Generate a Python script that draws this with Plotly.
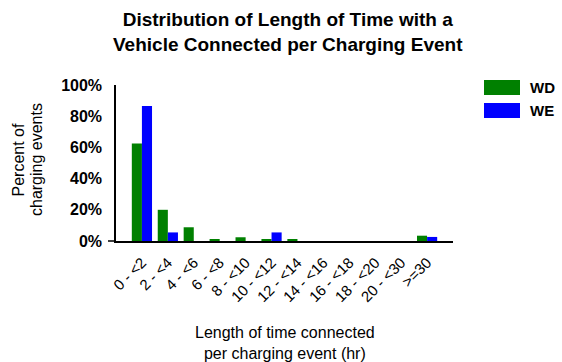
import plotly.graph_objects as go

categories = ["0 - <2", "2 - <4", "4 - <6", "6 - <8", "8 - <10", "10 - <12",
              "12 - <14", "14 - <16", "16 - <18", "18 - <20", "20 - <30", ">=30"]
wd_pct = [62.5, 20, 8.8, 1.0, 2.4, 1.0, 1.0, 0, 0, 0, 0, 3.4]
we_pct = [86.5, 5.5, 0, 0, 0, 5.5, 0, 0, 0, 0, 0, 2.6]
series_names = ["WD", "WE"]
series_colors = ["#008000", "#0000FF"]
y_ticks = [0, 20, 40, 60, 80, 100]

W, H = 562, 362
L, R, T, B = 116, 109, 85, 121
PW, PH = W - L - R, H - T - B
FONT = "Arial, Liberation Sans, sans-serif"


def px_x(x):
    return (x - L) / PW


def px_y(y):
    return 1 - (y - T) / PH


fig = go.Figure()
for name, vals, col in zip(series_names, [wd_pct, we_pct], series_colors):
    fig.add_trace(go.Bar(
        x=list(range(len(categories))), y=vals, name=name,
        marker=dict(color=col, line=dict(width=0)),
        showlegend=False,
    ))

fig.update_layout(
    width=W, height=H,
    margin=dict(l=L, r=R, t=T, b=B),
    paper_bgcolor="white", plot_bgcolor="white",
    barmode="group", bargap=0.22, bargroupgap=0,
    font=dict(family=FONT, color="black"),
    xaxis=dict(
        range=[-1, len(categories)],
        tickmode="array", tickvals=list(range(len(categories))), ticktext=categories,
        tickangle=-45, tickfont=dict(size=15), ticklabelstandoff=5,
        showline=True, linecolor="black", linewidth=2,
        showgrid=False, zeroline=False, ticks="",
    ),
    yaxis=dict(
        range=[0, 100],
        tickmode="array", tickvals=y_ticks,
        ticktext=[f"<b>{v}%</b>" for v in y_ticks],
        tickfont=dict(size=16), ticklabelstandoff=9,
        showline=True, linecolor="black", linewidth=1.5,
        showgrid=False, zeroline=False, ticks="",
    ),
)

# chart title
fig.add_annotation(
    xref="paper", yref="paper", x=px_x(288), y=px_y(7),
    xanchor="center", yanchor="top", showarrow=False, align="center",
    text="<b>Distribution of Length of Time with a<br>Vehicle Connected per Charging Event</b>",
    font=dict(size=19),
)

# x axis title
fig.add_annotation(
    xref="paper", yref="paper", x=px_x(285), y=px_y(322),
    xanchor="center", yanchor="top", showarrow=False, align="center",
    text="Length of time connected<br>per charging event (hr)",
    font=dict(size=16),
)

# y axis title, two tightly spaced rotated lines
for line, cx in [("Percent of", 17.5), ("charging events", 36)]:
    fig.add_annotation(
        xref="paper", yref="paper", x=px_x(cx), y=px_y(160),
        xanchor="center", yanchor="middle", showarrow=False,
        text=line, textangle=-90, font=dict(size=16),
    )

# short extension of the baseline to the left of the value axis
fig.add_shape(type="line", xref="paper", yref="paper",
              x0=px_x(108), x1=0, y0=0, y1=0,
              line=dict(color="black", width=1.5))

# legend: wide colour swatches with bold labels
for i, (name, col) in enumerate(zip(series_names, series_colors)):
    top = 80 + i * 23
    y0, y1 = px_y(top + 15), px_y(top)
    fig.add_shape(type="rect", xref="paper", yref="paper",
                  x0=px_x(484), x1=px_x(520), y0=y0, y1=y1,
                  fillcolor=col, line=dict(width=0))
    fig.add_annotation(xref="paper", yref="paper", x=px_x(528),
                       y=(y0 + y1) / 2, xanchor="left", yanchor="middle",
                       text=f"<b>{name}</b>", showarrow=False, font=dict(size=15))

fig.write_html("out.html")
